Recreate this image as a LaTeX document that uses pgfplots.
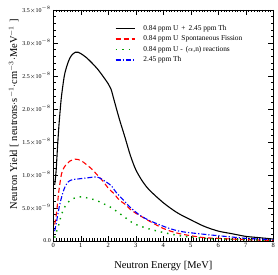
\documentclass[border=0pt]{standalone}
\usepackage{pgfplots}
\pgfplotsset{compat=1.18}
\usepackage{fontspec}
\setmainfont{Liberation Serif}
\definecolor{rgreen}{RGB}{0,160,0}
\begin{document}
\begin{tikzpicture}
\begin{axis}[
  scale only axis,
  width=220bp, height=231bp,
  xmin=0, xmax=8, ymin=0, ymax=3.5,
  xtick={0,1,...,8},
  ytick={0,0.5,...,3.5},
  yticklabels={0.0, 5.0$\times$10$^{-9}$, 1.0$\times$10$^{-8}$, 1.5$\times$10$^{-8}$, 2.0$\times$10$^{-8}$, 2.5$\times$10$^{-8}$, 3.0$\times$10$^{-8}$, 3.5$\times$10$^{-8}$},
  minor x tick num=9,
  minor y tick num=4,
  tick align=inside,
  major tick length=5bp,
  minor tick length=2.5bp,
  tick style={black, line width=0.4pt},
  /pgf/number format/assume math mode=true,
  xticklabel style={font=\fontsize{6.5}{7}\selectfont, yshift=1bp},
  yticklabel style={font=\fontsize{6}{7}\selectfont, xshift=1bp},
  scaled y ticks=false,
  xlabel={Neutron Energy [MeV]},
  ylabel={Neutron Yield [ neutrons$\cdot$s$^{-1}$$\cdot$cm$^{-3}$$\cdot$MeV$^{-1}$ ]},
  label style={font=\fontsize{10.5}{12}\selectfont},
  xlabel style={at={(axis description cs:0.5,-0.110)}, anchor=center},
  ylabel style={at={(axis description cs:-0.18,0.548)}, anchor=center},
  legend style={draw=none, fill=none, at={(axis description cs:0.28,0.935)}, anchor=north west,
    font=\fontsize{7.4}{8}\selectfont, row sep=4bp, inner sep=0pt,
    nodes={inner sep=0pt, text height=5bp, text depth=1.5bp}, legend cell align=left,
    /tikz/every odd column/.append style={column sep=8bp}},
  legend image code/.code={\draw[#1] (0bp,0bp) -- (19bp,0bp);},
  legend image post style={line width=1.3pt},
]
\addplot[black, line width=1.1pt, smooth] coordinates {
(0.05,0.85) (0.1,1.05) (0.15,1.4) (0.2,1.72) (0.25,1.98) (0.3,2.2) (0.4,2.5) (0.5,2.66) (0.6,2.77) (0.7,2.83) (0.8,2.86) (0.9,2.86) (1.0,2.84) (1.2,2.78) (1.4,2.70) (1.6,2.61) (1.8,2.50) (2.0,2.38) (2.1,2.30) (2.2,2.15) (2.4,1.85) (2.6,1.58) (2.8,1.30) (3.0,1.08) (3.25,0.90) (3.5,0.77) (4.0,0.58) (4.5,0.43) (5.0,0.32) (5.5,0.22) (6.0,0.15) (6.5,0.11) (7.0,0.07) (7.5,0.05) (8.0,0.03)
};
\addlegendentry{0.84 ppm U\, + \,2.45 ppm Th}
\addplot[red, line width=1.1pt, dash pattern=on 5bp off 3bp, smooth] coordinates {
(0.05,0.25) (0.1,0.37) (0.15,0.55) (0.2,0.75) (0.3,1.02) (0.4,1.12) (0.5,1.17) (0.6,1.21) (0.8,1.24) (1.0,1.22) (1.2,1.16) (1.4,1.09) (1.6,1.00) (1.8,0.91) (2.0,0.80) (2.2,0.72) (2.4,0.62) (2.6,0.56) (2.8,0.48) (3.0,0.42) (3.25,0.36) (3.5,0.30) (4.0,0.19) (4.5,0.12) (5.0,0.08) (5.5,0.05) (6.0,0.04) (7.0,0.02) (8.0,0.01)
};
\addlegendentry{0.84 ppm U\, Spontaneous Fission}
\addplot[rgreen, line width=1.4pt, dash pattern=on 1.4bp off 5bp, smooth] coordinates {
(0.05,0.05) (0.1,0.12) (0.18,0.22) (0.27,0.36) (0.36,0.47) (0.5,0.57) (0.67,0.63) (0.85,0.66) (1.05,0.67) (1.25,0.65) (1.45,0.63) (1.65,0.60) (1.85,0.56) (2.05,0.52) (2.3,0.45) (2.5,0.39) (2.7,0.33) (2.9,0.27) (3.2,0.22) (3.6,0.17) (4.1,0.12) (4.6,0.08) (5.0,0.06) (5.5,0.04) (6.0,0.03) (7.0,0.02) (8.0,0.01)
};
\addlegendentry{0.84 ppm U -\, ($\alpha$,n) reactions}
\addplot[blue, line width=1.1pt, dash pattern=on 5bp off 2bp on 1.2bp off 2bp, smooth] coordinates {
(0.05,0.15) (0.1,0.25) (0.18,0.44) (0.25,0.58) (0.36,0.75) (0.45,0.84) (0.55,0.90) (0.7,0.93) (0.9,0.94) (1.1,0.95) (1.3,0.96) (1.5,0.97) (1.6,0.97) (1.75,0.94) (1.9,0.90) (2.1,0.84) (2.3,0.73) (2.55,0.62) (2.8,0.51) (3.15,0.39) (3.5,0.31) (3.9,0.24) (4.3,0.18) (4.7,0.14) (5.3,0.11) (6.0,0.08) (6.5,0.06) (7.0,0.04) (7.5,0.03) (8.0,0.02)
};
\addlegendentry{2.45 ppm Th}
\end{axis}
\pgfresetboundingbox
\path[use as bounding box] ([shift={(-53.3bp,-34bp)}]current axis.south west) rectangle ([shift={(4.7bp,10bp)}]current axis.north east);
\end{tikzpicture}
\end{document}
